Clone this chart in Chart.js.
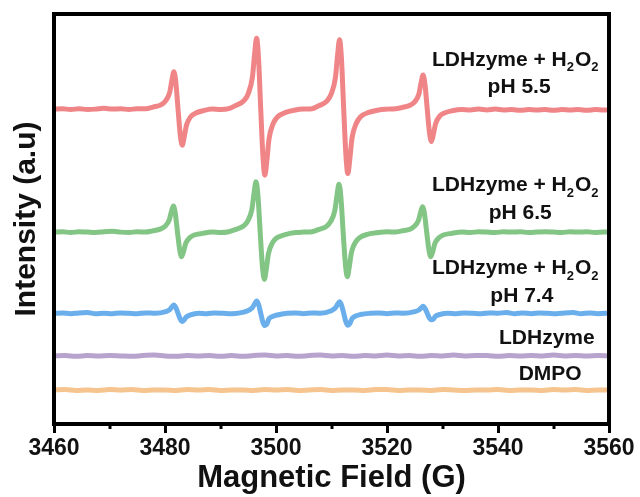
<!DOCTYPE html>
<html>
<head>
<meta charset="utf-8">
<script src="https://cdn.jsdelivr.net/npm/chart.js@4.4.0/dist/chart.umd.min.js"></script>
<style>
  html, body { margin: 0; padding: 0; background: #fff; }
  #wrap { width: 640px; height: 497px; position: relative; }
</style>
</head>
<body>
<div id="wrap"><canvas id="epr"></canvas></div>
<script>
// EPR spectra (DMPO spin trap), traces stacked with an offset, intensity in a.u.
// each series: [field (G), intensity]

const xTicks = [3460, 3480, 3500, 3520, 3540, 3560];
const xMinor = [3470, 3490, 3510, 3530, 3550];

const pH55 = [
  [3460,76.8],[3461.5,76.9],[3463,76.7],[3464.5,76.9],[3466,76.7],[3467.5,76.8],[3469,77.0],[3470.5,76.8],
  [3472,76.9],[3473.5,76.7],[3475,76.9],[3476.5,76.9],[3477.85,77.3],[3479.35,77.9],[3480.1,78.8],[3480.85,80.9],
  [3481.25,83.9],[3481.6,85.9],[3481.95,83.35],[3482.35,76.8],[3482.75,70.5],[3483.1,68.0],[3483.45,69.9],[3483.85,72.8],
  [3484.6,74.9],[3485.35,75.7],[3486.85,76.4],[3488.5,76.8],[3490,76.7],[3491.5,76.9],[3492.75,77.7],[3494.25,78.9],
  [3495.0,80.6],[3495.75,84.6],[3496.15,90.3],[3496.5,94.1],[3496.85,89.3],[3497.25,76.8],[3497.65,65.2],[3498.0,60.7],
  [3498.35,64.2],[3498.75,69.6],[3499.5,73.3],[3500.25,74.9],[3501.75,76.0],[3503.5,76.6],[3505,76.8],[3506.5,76.9],
  [3507.7,77.6],[3509.2,78.8],[3509.95,80.5],[3510.7,84.4],[3511.1,90.0],[3511.45,93.7],[3511.8,89.0],[3512.2,76.8],
  [3512.6,65.5],[3512.95,61.1],[3513.3,64.6],[3513.7,69.7],[3514.45,73.3],[3515.2,74.9],[3516.7,76.0],[3518.5,76.6],
  [3520,76.8],[3521.5,76.9],[3522.75,77.2],[3524.25,77.8],[3525.0,78.6],[3525.75,80.5],[3526.15,83.3],[3526.5,85.1],
  [3526.85,82.8],[3527.25,76.8],[3527.65,71.1],[3528.0,68.9],[3528.35,70.6],[3528.75,73.2],[3529.5,75.1],[3530.25,75.8],
  [3531.75,76.4],[3533.5,76.7],[3535,76.6],[3536.5,76.8],[3538,76.6],[3539.5,76.8],[3541,76.6],[3542.5,76.7],
  [3544,76.5],[3545.5,76.7],[3547,76.6],[3548.5,76.7],[3550,76.5],[3551.5,76.7],[3553,76.6],[3554.5,76.7],
  [3556,76.5],[3557.5,76.7],[3559,76.6],[3560,76.6],
];

const pH65 = [
  [3460,46.8],[3461.5,46.9],[3463,46.7],[3464.5,46.9],[3466,46.8],[3467.5,46.7],[3469,46.9],[3470.5,47.0],
  [3472,46.8],[3473.5,46.7],[3475,46.9],[3476.5,46.8],[3477.75,47.1],[3479.25,47.6],[3480.0,48.2],[3480.75,49.7],
  [3481.15,51.8],[3481.5,53.2],[3481.85,51.4],[3482.25,46.8],[3482.65,42.5],[3483.0,40.8],[3483.35,42.1],[3483.75,44.1],
  [3484.5,45.5],[3485.25,46.1],[3486.75,46.5],[3488.5,46.8],[3490,46.7],[3491.5,46.9],[3492.65,47.4],[3494.15,48.3],
  [3494.9,49.5],[3495.65,52.3],[3496.05,56.4],[3496.4,59.1],[3496.75,55.7],[3497.15,46.8],[3497.55,38.5],[3497.9,35.3],
  [3498.25,37.8],[3498.65,41.6],[3499.4,44.3],[3500.15,45.4],[3501.65,46.2],[3503.5,46.7],[3505,46.8],[3506.5,46.9],
  [3507.6,47.4],[3509.1,48.2],[3509.85,49.4],[3510.6,52.1],[3511.0,55.9],[3511.35,58.5],[3511.7,55.2],[3512.1,46.8],
  [3512.5,39.0],[3512.85,35.9],[3513.2,38.3],[3513.6,41.9],[3514.35,44.4],[3515.1,45.5],[3516.6,46.3],[3518.5,46.7],
  [3520,46.9],[3521.5,46.8],[3522.65,47.1],[3524.15,47.5],[3524.9,48.2],[3525.65,49.6],[3526.05,51.6],[3526.4,53.0],
  [3526.75,51.3],[3527.15,46.8],[3527.55,42.5],[3527.9,40.8],[3528.25,42.1],[3528.65,44.1],[3529.4,45.5],[3530.15,46.1],
  [3531.65,46.5],[3533.5,46.8],[3535,46.7],[3536.5,46.9],[3538,46.8],[3539.5,46.7],[3541,46.9],[3542.5,46.8],
  [3544,46.9],[3545.5,46.7],[3547,46.8],[3548.5,46.9],[3550,46.8],[3551.5,46.7],[3553,46.9],[3554.5,46.8],
  [3556,46.9],[3557.5,46.7],[3559,46.8],[3560,46.8],
];

const pH74 = [
  [3460,27.0],[3461.5,27.1],[3463,26.9],[3464.5,27.1],[3466,27.2],[3467.5,26.9],[3469,27.0],[3470.5,26.9],
  [3472,27.1],[3473.5,27.0],[3475,26.9],[3476.5,27.1],[3478.3,27.0],[3480.1,27.4],[3480.85,27.9],[3481.25,28.6],
  [3481.6,29.0],[3481.95,28.4],[3482.35,27.0],[3482.75,25.6],[3483.1,25.0],[3483.45,25.4],[3483.85,26.1],[3484.6,26.6],
  [3486,27.0],[3487.5,26.9],[3489,27.1],[3490.5,27.0],[3492,26.9],[3493.5,27.1],[3495.0,27.7],[3495.75,28.4],
  [3496.15,29.3],[3496.5,30.0],[3496.85,29.2],[3497.25,27.0],[3497.65,24.8],[3498.0,24.0],[3498.35,24.4],[3498.75,25.7],
  [3499.5,26.3],[3500.25,26.6],[3502,27.0],[3503.5,27.1],[3505,26.9],[3506.5,27.1],[3508,27.0],[3509.95,27.6],
  [3510.7,28.3],[3511.1,29.2],[3511.45,29.8],[3511.8,29.0],[3512.2,27.0],[3512.6,24.9],[3512.95,24.1],[3513.3,24.5],
  [3513.7,25.7],[3514.45,26.4],[3515.2,26.7],[3517,27.0],[3518.5,27.1],[3520,26.9],[3521.5,27.1],[3523,27.0],
  [3525.0,27.4],[3525.75,27.8],[3526.15,28.3],[3526.5,28.7],[3526.85,28.2],[3527.25,27.0],[3527.65,25.8],[3528.0,25.4],
  [3528.35,25.6],[3528.75,26.3],[3529.5,26.7],[3531,27.0],[3532.5,26.9],[3534,27.1],[3535.5,27.0],[3537,26.9],
  [3538.5,27.1],[3540,27.0],[3541.5,27.2],[3543,26.9],[3544.5,27.1],[3546,26.9],[3547.5,27.1],[3549,27.0],
  [3550.5,26.9],[3552,27.1],[3553.5,27.2],[3555,26.9],[3556.5,27.1],[3558,26.9],[3560,27.1],
];

const ldh = [
  [3460,16.6],[3462,16.7],[3464,16.5],[3466,16.7],[3468,16.6],[3470,16.7],[3472,16.6],[3474,16.5],
  [3476,16.7],[3478,16.8],[3480,16.6],[3482,16.5],[3484,16.7],[3486,16.6],[3488,16.7],[3490,16.5],
  [3492,16.7],[3494,16.5],[3496,16.7],[3498,16.8],[3500,16.6],[3502,16.7],[3504,16.5],[3506,16.7],
  [3508,16.8],[3510,16.6],[3512,16.7],[3514,16.5],[3516,16.7],[3518,16.6],[3520,16.8],[3522,16.6],
  [3524,16.7],[3526,16.5],[3528,16.7],[3530,16.6],[3532,16.8],[3534,16.6],[3536,16.7],[3538,16.7],
  [3540,16.5],[3542,16.7],[3544,16.6],[3546,16.7],[3548,16.6],[3550,16.8],[3552,16.6],[3554,16.7],
  [3556,16.6],[3558,16.7],[3560,16.6],
];

const dmpo = [
  [3460,8.3],[3462,8.4],[3464,8.2],[3466,8.3],[3468,8.2],[3470,8.4],[3472,8.3],[3474,8.4],
  [3476,8.2],[3478,8.3],[3480,8.3],[3482,8.2],[3484,8.4],[3486,8.3],[3488,8.4],[3490,8.2],
  [3492,8.3],[3494,8.3],[3496,8.2],[3498,8.4],[3500,8.3],[3502,8.4],[3504,8.2],[3506,8.3],
  [3508,8.4],[3510,8.2],[3512,8.3],[3514,8.3],[3516,8.2],[3518,8.4],[3520,8.4],[3522,8.2],
  [3524,8.3],[3526,8.3],[3528,8.2],[3530,8.4],[3532,8.3],[3534,8.2],[3536,8.3],[3538,8.3],
  [3540,8.4],[3542,8.2],[3544,8.3],[3546,8.3],[3548,8.2],[3550,8.4],[3552,8.3],[3554,8.4],
  [3556,8.2],[3558,8.3],[3560,8.3],
];

const SERIES = [
  { name: 'pH 5.5',  data: pH55, color: '#F08588' },
  { name: 'pH 6.5',  data: pH65, color: '#82C585' },
  { name: 'pH 7.4',  data: pH74, color: '#6AAEEC' },
  { name: 'LDHzyme', data: ldh,  color: '#B8A2CE' },
  { name: 'DMPO',    data: dmpo, color: '#F6C48E' },
];

// labels next to the traces, anchored in (field, intensity)
const LABELS = [
  { at: [3543.2, 88.8], parts: [['LDHzyme + H'], ['2', 1], ['O'], ['2', 1]] },
  { at: [3543.8, 82.2], parts: [['pH 5.5']] },
  { at: [3543.2, 58.3], parts: [['LDHzyme + H'], ['2', 1], ['O'], ['2', 1]] },
  { at: [3544.0, 51.5], parts: [['pH 6.5']] },
  { at: [3543.2, 38.0], parts: [['LDHzyme + H'], ['2', 1], ['O'], ['2', 1]] },
  { at: [3544.3, 31.2], parts: [['pH 7.4']] },
  { at: [3548.8, 21.0], parts: [['LDHzyme']] },
  { at: [3549.4, 12.2], parts: [['DMPO']] },
];

const FONT = '"Liberation Sans", Arial, sans-serif';

const framePlugin = {
  id: 'frame',
  afterDraw(chart) {
    const { ctx, chartArea: a, scales: { x, y } } = chart;
    ctx.save();
    // minor ticks (shorter)
    ctx.strokeStyle = '#000';
    ctx.lineWidth = 3;
    xMinor.forEach(v => {
      const px = Math.round(x.getPixelForValue(v));
      ctx.beginPath();
      ctx.moveTo(px, a.bottom);
      ctx.lineTo(px, a.bottom + 5);
      ctx.stroke();
    });
    // box
    ctx.lineWidth = 4;
    ctx.strokeRect(a.left, a.top, a.right - a.left, a.bottom - a.top);

    // trace labels with subscripts
    ctx.fillStyle = '#111';
    ctx.textBaseline = 'middle';
    ctx.textAlign = 'left';
    const big = `bold 21px ${FONT}`, small = `bold 13px ${FONT}`;
    LABELS.forEach(l => {
      let w = 0;
      l.parts.forEach(p => { ctx.font = p[1] ? small : big; w += ctx.measureText(p[0]).width + (p[1] ? 1 : 0); });
      let cx = x.getPixelForValue(l.at[0]) - w / 2;
      const cy = y.getPixelForValue(l.at[1]);
      l.parts.forEach(p => {
        ctx.font = p[1] ? small : big;
        ctx.fillText(p[0], cx, p[1] ? cy + 8 : cy);
        cx += ctx.measureText(p[0]).width + (p[1] ? 1 : 0);
      });
    });
    ctx.restore();
  }
};

new Chart(document.getElementById('epr').getContext('2d'), {
  type: 'line',
  data: {
    datasets: SERIES.map(s => ({
      label: s.name,
      data: s.data.map(p => ({ x: p[0], y: p[1] })),
      borderColor: s.color,
      backgroundColor: s.color,
      borderWidth: 5,
      pointRadius: 0,
      cubicInterpolationMode: 'monotone',
      fill: false,
    })),
  },
  options: {
    responsive: true,
    maintainAspectRatio: false,
    animation: false,
    layout: { padding: { top: 14, right: 31, left: 0, bottom: 0 } },
    plugins: { legend: { display: false }, tooltip: { enabled: false } },
    scales: {
      x: {
        type: 'linear',
        min: 3460, max: 3560,
        afterFit: s => { s.height = 73; },
        afterBuildTicks: s => { s.ticks = xTicks.map(v => ({ value: v })); },
        ticks: {
          color: '#111', padding: 2, font: { family: FONT, size: 23, weight: 'bold' },
          callback: v => String(v),
        },
        grid: { drawOnChartArea: false, drawTicks: true, tickLength: 9, tickWidth: 3, tickColor: '#000' },
        border: { display: false },
        title: {
          display: true, text: 'Magnetic Field (G)', color: '#111',
          font: { family: FONT, size: 31, weight: 'bold' }, padding: { top: 0, bottom: 0 },
        },
      },
      y: {
        min: 0, max: 100,
        afterFit: s => { s.width = 54; },
        ticks: { display: false },
        grid: { display: false },
        border: { display: false },
        title: {
          display: true, text: 'Intensity (a.u)', color: '#111',
          font: { family: FONT, size: 30, weight: 'bold' }, padding: { top: 9, bottom: 0 },
        },
      },
    },
  },
  plugins: [framePlugin],
});
</script>
</body>
</html>
